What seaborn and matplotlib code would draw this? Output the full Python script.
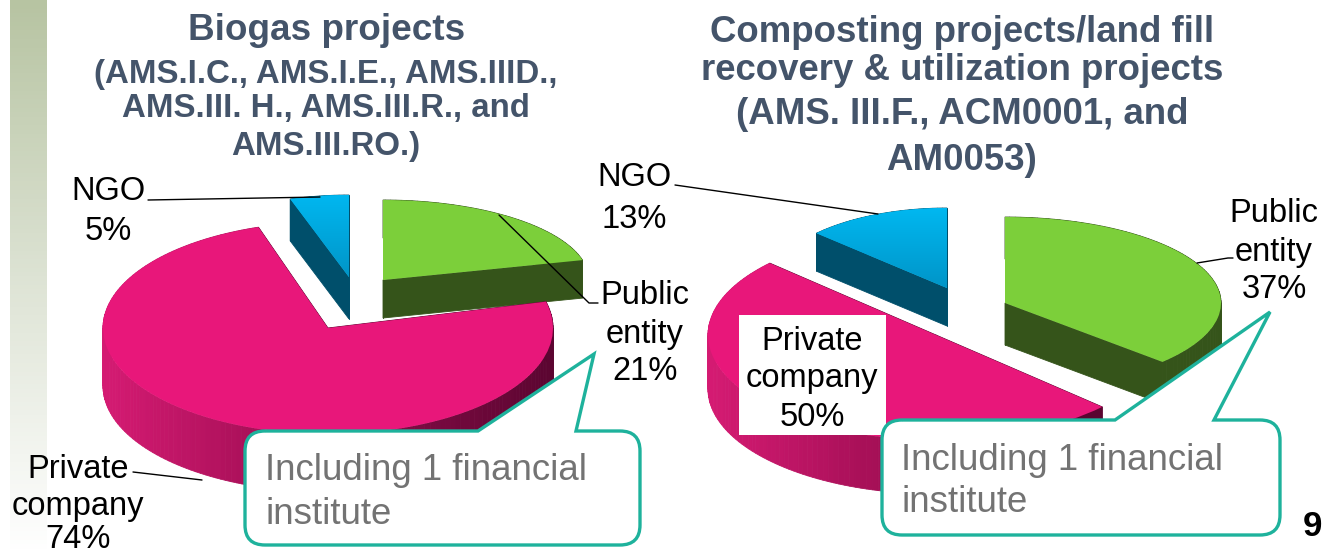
import numpy as np
import matplotlib
matplotlib.use("Agg")
import matplotlib.pyplot as plt
from matplotlib.colors import to_rgb
from matplotlib.path import Path
from matplotlib.patches import PathPatch
import seaborn as sns

sns.set_theme(style="white")
plt.rcParams["font.family"] = ["Liberation Sans", "DejaVu Sans"]

W, H = 1332, 553

# data, order is counter clockwise from the start angle
slice_names = ["Private company", "Public entity", "NGO"]
biogas_values = [74, 21, 5]
compost_values = [50, 37, 13]

biogas_title = ["(AMS.I.C., AMS.I.E., AMS.IIID.,", "AMS.III. H., AMS.III.R., and", "AMS.III.RO.)"]
compost_title = ["Composting projects/land fill", "recovery & utilization projects",
                 "(AMS. III.F., ACM0001, and", "AM0053)"]
callout_lines = ["Including 1 financial", "institute"]

PINK = "#e8177a"
GREEN = "#7ccf3a"
BLUE = "#00b9f2"
TITLE_COL = "#44546a"
TEAL = "#1eb29c"

pink_side = sns.blend_palette(["#d41a72", "#a81058", "#7d0a42", "#5a0530"], 64)
green_side = sns.blend_palette(["#35541a", "#35541a"], 64)
blue_side = sns.blend_palette(["#004f6b", "#004f6b"], 64)

fig = plt.figure(figsize=(W / 100, H / 100), dpi=100, facecolor="white")


def draw_slice(values, idx, start, cx, cy, rx, ry, depth, top, side, order, fade=None):
    # y range goes further down than the pie itself so the rim is not clipped
    ax = fig.add_axes([(cx - 1.25 * rx) / W, 1 - (cy + 2 * ry) / H, 2.5 * rx / W, 4 * ry / H],
                      zorder=order)
    wedges, _ = ax.pie(values, startangle=start, colors=[top] * len(values))
    for k, w in enumerate(wedges):
        w.set_visible(k == idx)
    wedge = wedges[idx]
    wedge.set_zorder(3)
    wedge.set_linewidth(0)
    d = depth / ry

    # rim, one small quad per step so the shade can change along the arc
    th = np.radians(np.arange(wedge.theta1, wedge.theta2 + 1.5, 1.5))
    th[-1] = np.radians(wedge.theta2)
    for a, b in zip(th[:-1], th[1:]):
        shade = side[int((np.cos(a) + 1) / 2 * 63)]
        ax.fill([np.cos(a), np.cos(b), np.cos(b), np.cos(a)],
                [np.sin(a), np.sin(b), np.sin(b) - d, np.sin(a) - d],
                color=shade, lw=0.6, zorder=1)
    # the two cut faces
    for t in [np.radians(wedge.theta1), np.radians(wedge.theta2)]:
        ax.fill([0, np.cos(t), np.cos(t), 0], [0, np.sin(t), np.sin(t) - d, -d],
                color=side[-1] if top == PINK else side[0], lw=0.6, zorder=2)

    if fade is not None:
        grad = np.linspace(0, 1, 64)[:, None, None] * np.array(to_rgb(fade)) \
            + np.linspace(1, 0, 64)[:, None, None] * np.array(to_rgb(top))
        im = ax.imshow(grad, extent=(-1.25, 1.25, 0, 1.05), aspect="auto", zorder=4, origin="upper")
        im.set_clip_path(wedge)
    ax.set_xlim(-1.25, 1.25)
    ax.set_ylim(-2, 2)
    ax.set_aspect("auto")
    ax.patch.set_alpha(0)
    return ax


# left pie
draw_slice(biogas_values, 2, 108, 349, 277, 190, 82, 42, BLUE, blue_side, 1, fade="#0095c8")
draw_slice(biogas_values, 1, 108, 383, 280, 206, 80, 38, GREEN, green_side, 2)
draw_slice(biogas_values, 0, 108, 328, 328, 225, 106, 58, PINK, pink_side, 3)

# right pie
draw_slice(compost_values, 2, 136.8, 947, 288, 179, 80, 38, BLUE, blue_side, 1, fade="#0095c8")
draw_slice(compost_values, 1, 136.8, 1005, 303, 216, 86, 42, GREEN, green_side, 2)
draw_slice(compost_values, 0, 136.8, 936, 335, 228, 105, 54, PINK, pink_side, 3)

# overlay in pixel coordinates for everything else
ov = fig.add_axes([0, 0, 1, 1], zorder=10)
ov.set_xlim(0, W)
ov.set_ylim(H, 0)
ov.axis("off")
ov.patch.set_alpha(0)

# side bar
bar = sns.blend_palette(["#b7c4a2", "#dde3d4", "#ffffff"], 128)
ov.imshow(np.array(bar)[:, None, :], extent=(10, 47, H, 0), aspect="auto", zorder=0)
ov.set_xlim(0, W)
ov.set_ylim(H, 0)


def callout(x0, y0, x1, y1, tip, base_a, base_b, r=20):
    verts = [(x0 + r, y0), (base_a, y0), tip, (base_b, y0), (x1 - r, y0), (x1, y0), (x1, y0 + r),
             (x1, y1 - r), (x1, y1), (x1 - r, y1), (x0 + r, y1), (x0, y1), (x0, y1 - r),
             (x0, y0 + r), (x0, y0), (x0 + r, y0)]
    codes = [Path.MOVETO, Path.LINETO, Path.LINETO, Path.LINETO, Path.LINETO, Path.CURVE3, Path.CURVE3,
             Path.LINETO, Path.CURVE3, Path.CURVE3, Path.LINETO, Path.CURVE3, Path.CURVE3,
             Path.LINETO, Path.CURVE3, Path.CURVE3]
    ov.add_patch(PathPatch(Path(verts, codes), fc="white", ec=TEAL, lw=2.4, zorder=5))


callout(245, 431, 640, 545, (594, 354), 478, 576)
callout(882, 420, 1280, 535, (1270, 312), 1115, 1214)

# leader lines
leaders = [
    ([148, 320], [200, 197]),
    ([499, 589, 598], [215, 303, 303]),
    ([133, 202], [472, 480]),
    ([675, 878], [185, 214]),
    ([1197, 1228, 1233], [263, 258, 258]),
]
for lx, ly in leaders:
    ov.plot(lx, ly, color="black", lw=1, zorder=3)

# white box behind the inside label
ov.fill([739, 886, 886, 739], [315, 315, 435, 435], color="white", lw=0, zorder=4)

# titles
ov.text(327, 30, "Biogas projects", ha="center", va="center", fontsize=26.6, fontweight="bold",
        color=TITLE_COL, zorder=6)
for txt, y in zip(biogas_title, [74, 109, 146]):
    ov.text(326, y, txt, ha="center", va="center", fontsize=23.8, fontweight="bold", color=TITLE_COL, zorder=6)
for txt, y in zip(compost_title, [32, 71, 115, 160]):
    ov.text(962, y, txt, ha="center", va="center", fontsize=26.4, fontweight="bold", color=TITLE_COL, zorder=6)


def label(x, ys, name, value):
    parts = ["NGO"] if name == "NGO" else name.split(" ")
    for txt, y in zip(parts + [f"{value}%"], ys):
        ov.text(x, y, txt, ha="center", va="center", fontsize=23.5, color="black", zorder=6)


label(108, [191, 231], slice_names[2], biogas_values[2])
label(645, [296, 335, 372], slice_names[1], biogas_values[1])
label(78, [469, 507, 539], slice_names[0], biogas_values[0])
label(634, [178, 219], slice_names[2], compost_values[2])
label(1274, [213, 253, 289], slice_names[1], compost_values[1])
label(812, [341, 379, 417], slice_names[0], compost_values[0])

for x, ys in [(265, [470, 515]), (901, [460, 503])]:
    for txt, y in zip(callout_lines, ys):
        ov.text(x, y, txt, ha="left", va="center", fontsize=26.4, color="#737373", zorder=6)

ov.text(1312, 527, "9", ha="center", va="center", fontsize=25, fontweight="bold", color="black", zorder=6)

fig.savefig("out.png", dpi=100)
plt.close(fig)
